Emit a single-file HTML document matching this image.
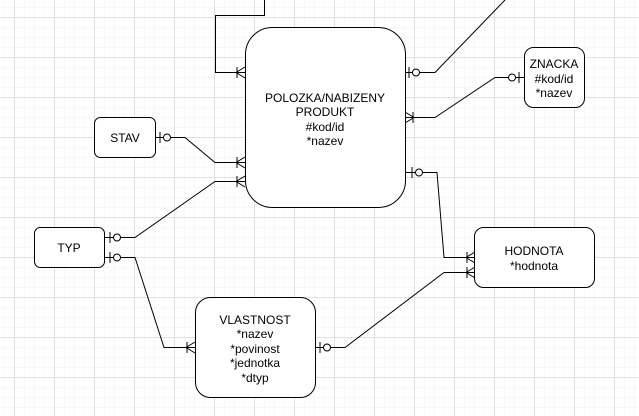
<!DOCTYPE html>
<html><head><meta charset="utf-8"><style>
html,body{margin:0;padding:0;background:#fff;}
svg{display:block;font-family:"Liberation Sans",sans-serif;}
</style></head><body>
<svg width="639" height="416" viewBox="0 0 639 416" xmlns="http://www.w3.org/2000/svg">
<defs>
<pattern id="minor" width="10" height="10" patternUnits="userSpaceOnUse" x="4" y="7">
<path d="M0 0V10M0 0H10" stroke="#f0f0f0" stroke-width="1" fill="none"/>
</pattern>
<pattern id="major" width="40" height="40" patternUnits="userSpaceOnUse" x="14" y="17">
<path d="M0.5 0V40M0 0.5H40" stroke="#e0e0e0" stroke-width="1" fill="none"/>
</pattern>
</defs>
<rect width="639" height="416" fill="url(#minor)"/>
<rect width="639" height="416" fill="url(#major)"/>
<g fill="none" stroke="#000" stroke-width="1">
<path d="M264.5 0V15.5H215.5V72.5H245"/>
<path d="M245 67L236 72.5L245 78M237 67V78"/>
<path d="M155 137.5H185L215 162.5H245"/>
<path d="M245 157L236 162.5L245 168M237 157V168"/>
<path d="M160 132V143"/><circle cx="167" cy="137.5" r="3.5" fill="#fff"/>
<path d="M105 237.5H135L215 181.5H245"/>
<path d="M245 176L236 181.5L245 187M237 176V187"/>
<path d="M110 232V243"/><circle cx="117" cy="237.5" r="3.5" fill="#fff"/>
<path d="M105 257.5H135L164 347.5H195"/>
<path d="M195 342L186 347.5L195 353M187 342V353"/>
<path d="M110 252V263"/><circle cx="117" cy="257.5" r="3.5" fill="#fff"/>
<path d="M405 72.5H435L505 0"/>
<path d="M409 67V78"/><circle cx="416" cy="72.5" r="3.5" fill="#fff"/>
<path d="M524 77.5H495L435 117.5H405"/>
<path d="M519 72V83"/><circle cx="512" cy="77.5" r="3.5" fill="#fff"/>
<path d="M405 112L414 117.5L405 123M413 112V123"/>
<path d="M405 172.5H437L444 257.5H475"/>
<path d="M412 167V178"/><circle cx="419" cy="172.5" r="3.5" fill="#fff"/>
<path d="M475 252L466 257.5L475 263M467 252V263"/>
<path d="M315 347.5H345L444 272.5H475"/>
<path d="M475 267L466 272.5L475 278M467 267V278"/>
<path d="M320 342V353"/><circle cx="327" cy="347.5" r="3.5" fill="#fff"/>
</g>
<g fill="#fff" stroke="#000" stroke-width="1">
<rect x="245.5" y="27.5" width="160" height="180" rx="27"/>
<rect x="94.5" y="117.5" width="61" height="40" rx="6"/>
<rect x="34.5" y="227.5" width="70" height="40" rx="6"/>
<rect x="195.5" y="297.5" width="120" height="100" rx="15"/>
<rect x="524.5" y="47.5" width="60" height="60" rx="9"/>
<rect x="474.5" y="227.5" width="120" height="60" rx="9"/>
</g>
<g font-size="12" text-anchor="middle" fill="#000">
<text x="325" y="102">POLOZKA/NABIZENY</text>
<text x="325" y="116">PRODUKT</text>
<text x="325" y="131">#kod/id</text>
<text x="325" y="145">*nazev</text>
<text x="125" y="142">STAV</text>
<text x="69" y="252">TYP</text>
<text x="255" y="324">VLASTNOST</text>
<text x="255" y="338">*nazev</text>
<text x="255" y="353">*povinost</text>
<text x="255" y="367">*jednotka</text>
<text x="255" y="382">*dtyp</text>
<text x="554" y="68">ZNACKA</text>
<text x="554" y="83">#kod/id</text>
<text x="554" y="97">*nazev</text>
<text x="534" y="255">HODNOTA</text>
<text x="534" y="270">*hodnota</text>
</g>
</svg>
</body></html>
